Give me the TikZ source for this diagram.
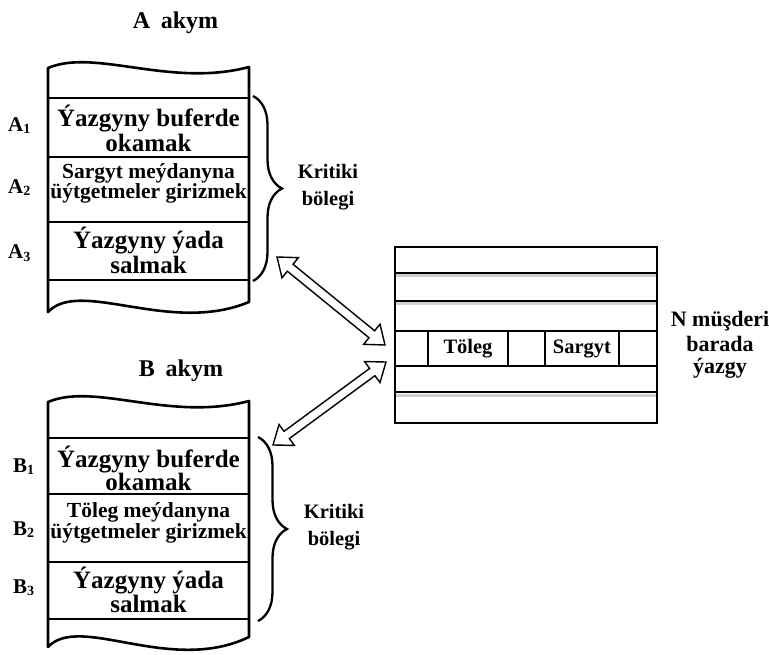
\documentclass[tikz,border=0pt]{standalone}
\usepackage{fontspec}
\setmainfont{Liberation Serif}
\usetikzlibrary{calc,decorations.pathreplacing}
\newcommand\hollowarrow[2]{%
  \coordinate (#1h) at ($(#1)!17pt!(#2)$);
  \coordinate (#2h) at ($(#2)!17pt!(#1)$);
  \draw[arrowline] (#1) -- ($(#1h)!13pt!90:(#2)$) -- ($(#1h)!4.5pt!90:(#2)$)
    -- ($(#2h)!4.5pt!-90:(#1)$) -- ($(#2h)!13pt!-90:(#1)$) -- (#2)
    -- ($(#2h)!13pt!90:(#1)$) -- ($(#2h)!4.5pt!90:(#1)$)
    -- ($(#1h)!4.5pt!-90:(#2)$) -- ($(#1h)!13pt!-90:(#2)$) -- cycle;}
\newcommand\sub[1]{\raisebox{-2pt}{\fontsize{14}{14}\selectfont #1}}
\begin{document}
\begin{tikzpicture}[x=1pt,y=-1pt,
  pageline/.style={line width=2.6pt, line join=round},
  rowline/.style={line width=2.7pt},
  tabline/.style={line width=2.7pt},
  shadowline/.style={line width=3pt, black!18},
  arrowline/.style={line width=1.4pt, line join=miter, fill=white},
  bracestyle/.style={line width=2.3pt, decorate, decoration={brace, amplitude=29pt}},
  big/.style={font=\bfseries\fontsize{25}{25}\selectfont, anchor=base, inner sep=0pt},
  mid/.style={font=\bfseries\fontsize{21.5}{21.5}\selectfont, anchor=base, inner sep=0pt},
  lab/.style={font=\bfseries\fontsize{21}{21}\selectfont, anchor=base west, inner sep=0pt},
  side/.style={font=\bfseries\fontsize{20.5}{20.5}\selectfont, anchor=base, inner sep=0pt},
  title/.style={font=\bfseries\fontsize{24}{24}\selectfont, anchor=base, inner sep=0pt},
  celltext/.style={font=\bfseries\fontsize{20.5}{20.5}\selectfont, anchor=base, inner sep=0pt},
  rectext/.style={font=\bfseries\fontsize{22}{22}\selectfont, anchor=base, inner sep=0pt}]
\useasboundingbox (0,0) rectangle (769,655);

% ---------- A thread ----------
\node[title] (atitle) at (175.5,29) {A\hspace{0.45em}akym};
\draw[pageline] (48,68) .. controls (95,48) and (170,88) .. (249,67)
  -- (249,302) .. controls (170,335) and (80,278) .. (48,312) -- cycle;
\draw[rowline] (48,98) -- (249,98);
\draw[rowline] (48,157) -- (249,157);
\draw[rowline] (48,222) -- (249,222);
\draw[rowline] (48,280) -- (249,280);
\node[big] (a1l1) at (148.5,126.7) {Ýazgyny buferde};
\node[big] (a1l2) at (148.5,151.7) {okamak};
\node[mid] (a2l1) at (148.5,178.3) {Sargyt meýdanyna};
\node[mid] (a2l2) at (148.5,198.3) {üýtgetmeler girizmek};
\node[big] (a3l1) at (148.5,249) {Ýazgyny ýada};
\node[big] (a3l2) at (148.5,273.3) {salmak};
\node[lab] (alab1) at (8,132) {A\sub{1}};
\node[lab] (alab2) at (8,194) {A\sub{2}};
\node[lab] (alab3) at (8,259) {A\sub{3}};
\coordinate (abt) at (253,96);
\coordinate (abb) at (253,281);
\draw[bracestyle] (abt) -- (abb);
\node[side] (ak1) at (328,179) {Kritiki};
\node[side] (ak2) at (328,206) {bölegi};

% ---------- B thread ----------
\node[title] (btitle) at (181,376) {B\hspace{0.45em}akym};
\draw[pageline] (48,402) .. controls (95,382) and (170,422) .. (249,401)
  -- (249,637) .. controls (170,675) and (80,613) .. (48,647) -- cycle;
\draw[rowline] (48,438) -- (249,438);
\draw[rowline] (48,494) -- (249,494);
\draw[rowline] (48,562) -- (249,562);
\draw[rowline] (48,619) -- (249,619);
\node[big] (b1l1) at (148.5,467) {Ýazgyny buferde};
\node[big] (b1l2) at (148.5,490) {okamak};
\node[mid] (b2l1) at (148.5,517) {Töleg meýdanyna};
\node[mid] (b2l2) at (148.5,538) {üýtgetmeler girizmek};
\node[big] (b3l1) at (148.5,588) {Ýazgyny ýada};
\node[big] (b3l2) at (148.5,612) {salmak};
\node[lab] (blab1) at (13,472) {B\sub{1}};
\node[lab] (blab2) at (13,535) {B\sub{2}};
\node[lab] (blab3) at (13,593) {B\sub{3}};
\coordinate (bbt) at (258,437);
\coordinate (bbb) at (258,621);
\draw[bracestyle] (bbt) -- (bbb);
\node[side] (bk1) at (334,518) {Kritiki};
\node[side] (bk2) at (334,545) {bölegi};

% ---------- record table ----------
\draw[shadowline] (396,276) -- (656,276);
\draw[shadowline] (396,304) -- (656,304);
\draw[shadowline] (396,395) -- (656,395);
\draw[tabline] (395,247) rectangle (657,423);
\draw[tabline] (395,273) -- (657,273);
\draw[tabline] (395,301) -- (657,301);
\draw[tabline] (395,331) -- (657,331);
\draw[tabline] (395,366) -- (657,366);
\draw[tabline] (395,392) -- (657,392);
\draw[tabline] (428,331) -- (428,366);
\draw[tabline] (508,331) -- (508,366);
\draw[tabline] (545,331) -- (545,366);
\draw[tabline] (619,331) -- (619,366);
\node[celltext] (toleg) at (468,353) {Töleg};
\node[celltext] (sargyt) at (582,353) {Sargyt};
\node[rectext] (r1) at (720,326.7) {N müşderi};
\node[rectext] (r2) at (720,351.7) {barada};
\node[rectext] (r3) at (720,373) {ýazgy};

% ---------- arrows ----------
\coordinate (p1) at (277,257);
\coordinate (p2) at (385,345);
\coordinate (q1) at (386,362);
\coordinate (q2) at (273,445);
\hollowarrow{p1}{p2}
\hollowarrow{q1}{q2}
\end{tikzpicture}
\end{document}
